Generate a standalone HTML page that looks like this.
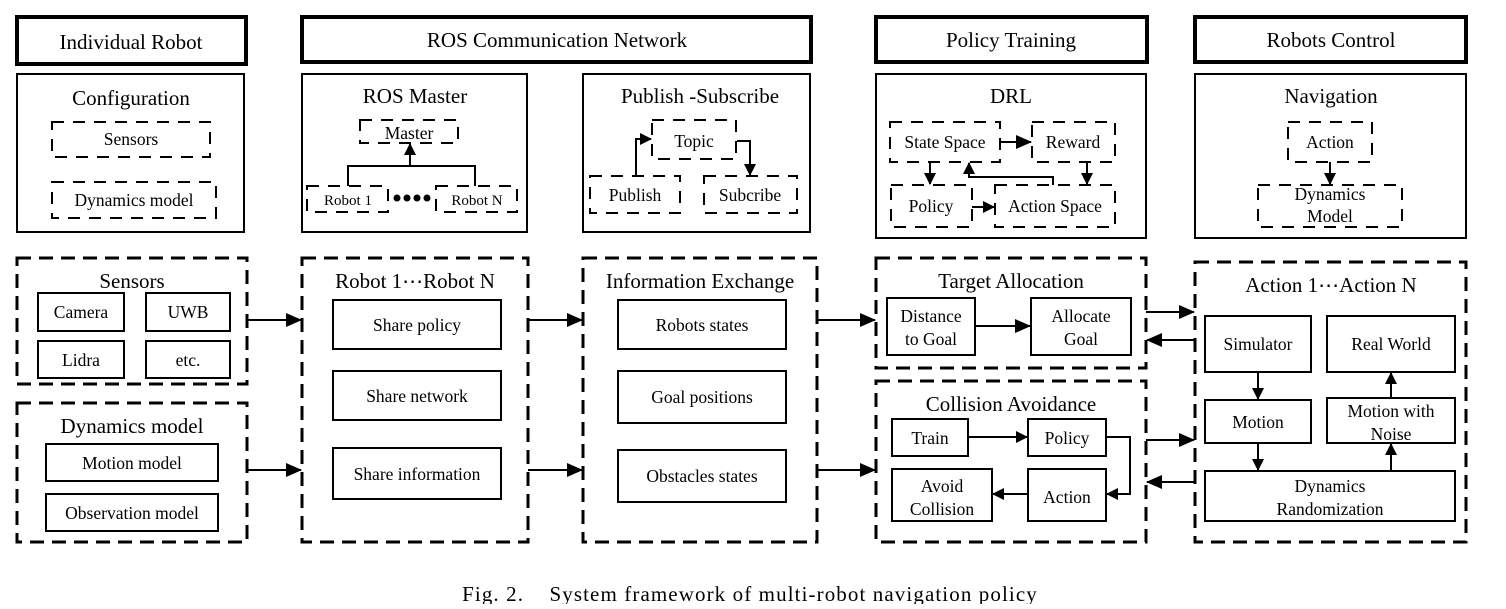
<!DOCTYPE html>
<html><head><meta charset="utf-8"><style>
body{margin:0;background:#fff;}
svg text{font-family:"Liberation Serif",serif;fill:#000;}
</style></head><body>
<svg width="1506" height="604" viewBox="0 0 1506 604" xmlns="http://www.w3.org/2000/svg">
<defs>
<marker id="a" markerWidth="12" markerHeight="12" refX="11" refY="6" orient="auto" markerUnits="userSpaceOnUse">
<path d="M0,0 L12,6 L0,12 z" fill="#000"/></marker>
<marker id="b" markerWidth="16" markerHeight="14" refX="15" refY="7" orient="auto" markerUnits="userSpaceOnUse">
<path d="M0,0 L16,7 L0,14 z" fill="#000"/></marker>
</defs>
<g fill="none" stroke="#000">
<rect x="17" y="17" width="229" height="47" stroke-width="4"/>
<rect x="302" y="17" width="509" height="45" stroke-width="4"/>
<rect x="876" y="17" width="271" height="45" stroke-width="4"/>
<rect x="1195" y="17" width="271" height="45" stroke-width="4"/>
<rect x="17" y="74" width="227" height="158" stroke-width="2"/>
<rect x="302" y="74" width="225" height="158" stroke-width="2"/>
<rect x="583" y="74" width="227" height="158" stroke-width="2"/>
<rect x="876" y="74" width="270" height="164" stroke-width="2"/>
<rect x="1195" y="74" width="271" height="164" stroke-width="2"/>
<g stroke-width="2" stroke-dasharray="12 9">
<rect x="52" y="122" width="158" height="35"/>
<rect x="52" y="182" width="164" height="36"/>
<rect x="360" y="120" width="98" height="23"/>
<rect x="307" y="186" width="81" height="26"/>
<rect x="436" y="186" width="81" height="26"/>
<rect x="652" y="120" width="84" height="39"/>
<rect x="590" y="176" width="90" height="37"/>
<rect x="704" y="176" width="93" height="37"/>
<rect x="890" y="122" width="110" height="40"/>
<rect x="1032" y="122" width="83" height="40"/>
<rect x="891" y="185" width="81" height="42"/>
<rect x="995" y="185" width="120" height="42"/>
<rect x="1288" y="122" width="84" height="40"/>
<rect x="1258" y="185" width="144" height="42"/>
</g>
<g stroke-width="2">
<polyline points="348,186 348,166 475,166 475,186"/>
<line x1="410" y1="166" x2="410" y2="144" marker-end="url(#a)"/>
<polyline points="636,176 636,139 651,139" marker-end="url(#a)"/>
<polyline points="737,141 750,141 750,175" marker-end="url(#a)"/>
<line x1="1000" y1="142" x2="1031" y2="142" marker-end="url(#b)"/>
<line x1="930" y1="162" x2="930" y2="184" marker-end="url(#a)"/>
<line x1="1087" y1="162" x2="1087" y2="184" marker-end="url(#a)"/>
<polyline points="1053,185 1053,177 969,177 969,163" marker-end="url(#a)"/>
<line x1="972" y1="207" x2="994" y2="207" marker-end="url(#a)"/>
<line x1="1330" y1="162" x2="1330" y2="184" marker-end="url(#a)"/>
</g>
<g stroke-width="3" stroke-dasharray="14 8">
<rect x="17" y="258" width="230" height="126"/>
<rect x="17" y="403" width="230" height="139"/>
<rect x="302" y="258" width="226" height="284"/>
<rect x="583" y="258" width="234" height="284"/>
<rect x="876" y="258" width="270" height="110"/>
<rect x="876" y="381" width="270" height="161"/>
<rect x="1195" y="262" width="271" height="280"/>
</g>
<g stroke-width="2">
<rect x="38" y="293" width="86" height="38"/>
<rect x="146" y="293" width="84" height="38"/>
<rect x="38" y="341" width="86" height="37"/>
<rect x="146" y="341" width="84" height="37"/>
<rect x="46" y="444" width="172" height="37"/>
<rect x="46" y="494" width="172" height="37"/>
<rect x="333" y="300" width="168" height="49"/>
<rect x="333" y="371" width="168" height="49"/>
<rect x="333" y="448" width="168" height="51"/>
<rect x="618" y="300" width="168" height="49"/>
<rect x="618" y="371" width="168" height="52"/>
<rect x="618" y="450" width="168" height="52"/>
<rect x="887" y="298" width="88" height="57"/>
<rect x="1031" y="298" width="100" height="57"/>
<rect x="892" y="419" width="76" height="37"/>
<rect x="1028" y="419" width="78" height="37"/>
<rect x="892" y="469" width="100" height="52"/>
<rect x="1028" y="469" width="78" height="52"/>
<rect x="1205" y="316" width="106" height="56"/>
<rect x="1327" y="316" width="128" height="56"/>
<rect x="1205" y="400" width="106" height="43"/>
<rect x="1327" y="398" width="128" height="45"/>
<rect x="1205" y="471" width="250" height="50"/>
<line x1="247" y1="320" x2="301" y2="320" marker-end="url(#b)"/>
<line x1="247" y1="470" x2="301" y2="470" marker-end="url(#b)"/>
<line x1="528" y1="320" x2="582" y2="320" marker-end="url(#b)"/>
<line x1="528" y1="470" x2="582" y2="470" marker-end="url(#b)"/>
<line x1="817" y1="320" x2="875" y2="320" marker-end="url(#b)"/>
<line x1="817" y1="470" x2="875" y2="470" marker-end="url(#b)"/>
<line x1="1146" y1="312" x2="1194" y2="312" marker-end="url(#b)"/>
<line x1="1195" y1="340" x2="1147" y2="340" marker-end="url(#b)"/>
<line x1="1146" y1="440" x2="1194" y2="440" marker-end="url(#b)"/>
<line x1="1195" y1="482" x2="1147" y2="482" marker-end="url(#b)"/>
<line x1="975" y1="326" x2="1030" y2="326" marker-end="url(#b)"/>
<line x1="968" y1="437" x2="1027" y2="437" marker-end="url(#a)"/>
<polyline points="1106,437 1130,437 1130,494 1107,494" marker-end="url(#a)"/>
<line x1="1028" y1="494" x2="993" y2="494" marker-end="url(#a)"/>
<line x1="1258" y1="372" x2="1258" y2="399" marker-end="url(#a)"/>
<line x1="1258" y1="443" x2="1258" y2="470" marker-end="url(#a)"/>
<line x1="1391" y1="471" x2="1391" y2="444" marker-end="url(#a)"/>
<line x1="1391" y1="398" x2="1391" y2="373" marker-end="url(#a)"/>
</g>
</g>
<g fill="#000"><circle cx="397" cy="198" r="3.5"/><circle cx="407" cy="198" r="3.5"/><circle cx="417" cy="198" r="3.5"/><circle cx="427" cy="198" r="3.5"/></g>
<g text-anchor="middle" font-size="21">
<text x="131" y="49">Individual Robot</text>
<text x="557" y="47">ROS Communication Network</text>
<text x="1011" y="47">Policy Training</text>
<text x="1331" y="47">Robots Control</text>
<text x="131" y="105">Configuration</text>
<text x="415" y="103">ROS Master</text>
<text x="700" y="103">Publish -Subscribe</text>
<text x="1011" y="103">DRL</text>
<text x="1331" y="103">Navigation</text>
<text x="132" y="288">Sensors</text>
<text x="132" y="433">Dynamics model</text>
<text x="415" y="288">Robot 1⋯Robot N</text>
<text x="700" y="288">Information Exchange</text>
<text x="1011" y="288">Target Allocation</text>
<text x="1011" y="411">Collision Avoidance</text>
<text x="1331" y="292">Action 1⋯Action N</text>
</g>
<g text-anchor="middle" font-size="17.5">
<text x="131" y="145">Sensors</text>
<text x="134" y="206">Dynamics model</text>
<text x="409" y="139">Master</text>
<text x="348" y="205" font-size="15">Robot 1</text>
<text x="477" y="205" font-size="15">Robot N</text>
<text x="694" y="147">Topic</text>
<text x="635" y="201">Publish</text>
<text x="750" y="201">Subcribe</text>
<text x="945" y="148">State Space</text>
<text x="1073" y="148">Reward</text>
<text x="931" y="212">Policy</text>
<text x="1055" y="212">Action Space</text>
<text x="1330" y="148">Action</text>
<text x="1330" y="200">Dynamics</text>
<text x="1330" y="222">Model</text>
<text x="81" y="318">Camera</text>
<text x="188" y="318">UWB</text>
<text x="81" y="366">Lidra</text>
<text x="188" y="366">etc.</text>
<text x="132" y="469">Motion model</text>
<text x="132" y="519">Observation model</text>
<text x="417" y="331">Share policy</text>
<text x="417" y="402">Share network</text>
<text x="417" y="480">Share information</text>
<text x="702" y="331">Robots states</text>
<text x="702" y="403">Goal positions</text>
<text x="702" y="482">Obstacles states</text>
<text x="931" y="322">Distance</text>
<text x="931" y="345">to Goal</text>
<text x="1081" y="322">Allocate</text>
<text x="1081" y="345">Goal</text>
<text x="930" y="444">Train</text>
<text x="1067" y="444">Policy</text>
<text x="942" y="492">Avoid</text>
<text x="942" y="515">Collision</text>
<text x="1067" y="503">Action</text>
<text x="1258" y="350">Simulator</text>
<text x="1391" y="350">Real World</text>
<text x="1258" y="428">Motion</text>
<text x="1391" y="417">Motion with</text>
<text x="1391" y="440">Noise</text>
<text x="1330" y="492">Dynamics</text>
<text x="1330" y="515">Randomization</text>
</g>
<text x="750" y="601" text-anchor="middle" font-size="21" letter-spacing="1.1" xml:space="preserve">Fig. 2.    System framework of multi-robot navigation policy</text>
</svg>
</body></html>
